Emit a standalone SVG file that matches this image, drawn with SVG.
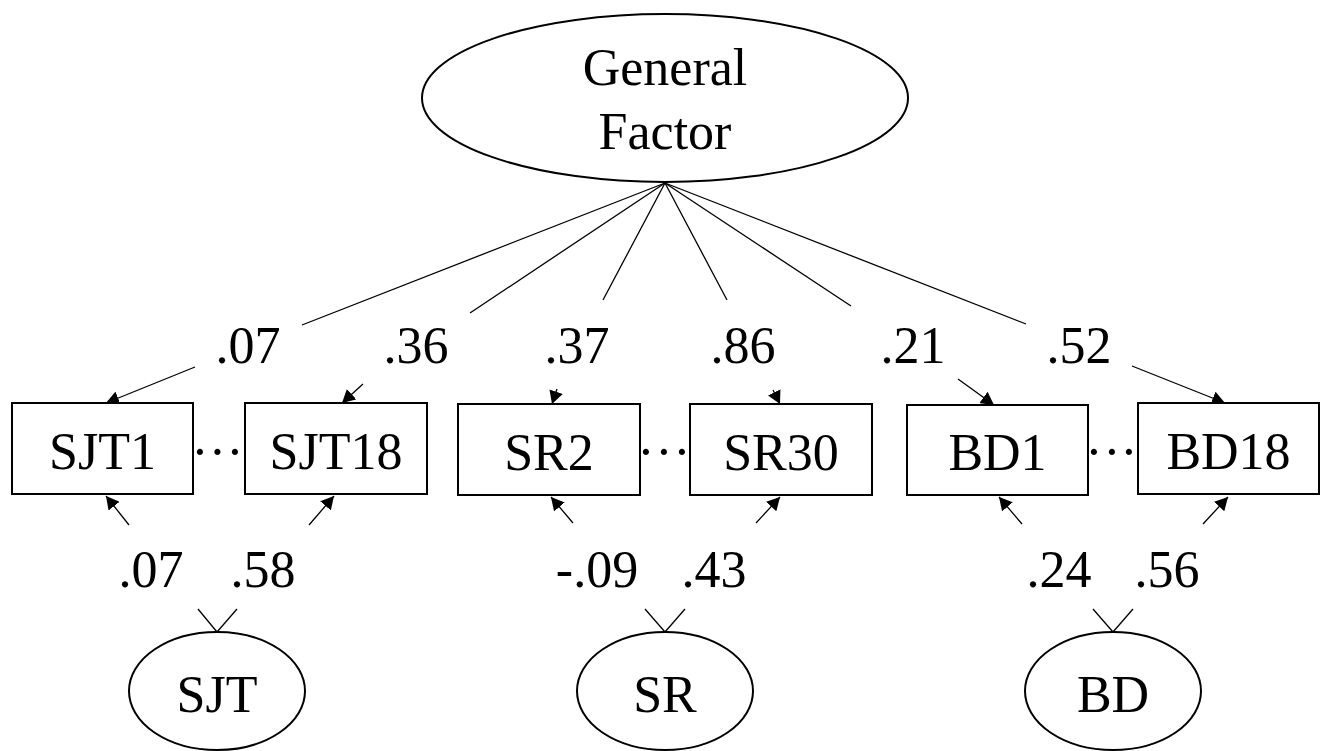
<svg xmlns="http://www.w3.org/2000/svg" width="1326" height="751" viewBox="0 0 1326 751">
  <style>
    text { font-family: "Liberation Serif", "Times New Roman", serif; font-size: 52px; fill: #000; }
    .mid { text-anchor: middle; }
    .shape { fill: #fff; stroke: #000; stroke-width: 2; }
    .edge { fill: none; stroke: #000; stroke-width: 1.3; }
  </style>
  <defs>
    <marker id="arrow" viewBox="0 0 13 14" refX="13" refY="7" markerWidth="13" markerHeight="14" markerUnits="userSpaceOnUse" orient="auto">
      <path d="M0,0 L13,7 L0,14 Z" fill="#000"/>
    </marker>
  </defs>

  <rect width="1326" height="751" fill="#fff"/>

  <!-- paths: each connector is split around its coefficient label -->
  <g id="connectors">
    <path class="edge" d="M665,183 L302,325 M195,367 L106,403" marker-end="url(#arrow)"/>
    <path class="edge" d="M665,183 L470,313 M363,384 L342,403" marker-end="url(#arrow)"/>
    <path class="edge" d="M665,183 L603,300 M557,389 L552,404" marker-end="url(#arrow)"/>
    <path class="edge" d="M665,183 L727,300 M773,390 L780,404" marker-end="url(#arrow)"/>
    <path class="edge" d="M665,183 L851,306 M958,379 L994,405" marker-end="url(#arrow)"/>
    <path class="edge" d="M665,183 L1026,324 M1132,366 L1225,403" marker-end="url(#arrow)"/>

    <path class="edge" d="M217,632 L198,609 M129,525 L106,496" marker-end="url(#arrow)"/>
    <path class="edge" d="M217,632 L237,609 M309,525 L334,496" marker-end="url(#arrow)"/>
    <path class="edge" d="M665,632 L645,609 M573,523 L551,497" marker-end="url(#arrow)"/>
    <path class="edge" d="M665,632 L685,609 M756,523 L780,497" marker-end="url(#arrow)"/>
    <path class="edge" d="M1113,632 L1093,609 M1022,524 L999,497" marker-end="url(#arrow)"/>
    <path class="edge" d="M1113,632 L1133,609 M1203,524 L1228,497" marker-end="url(#arrow)"/>
  </g>

  <g id="labels">
    <text class="mid" x="248" y="363">.07</text>
    <text class="mid" x="416" y="363">.36</text>
    <text class="mid" x="577" y="363">.37</text>
    <text class="mid" x="743" y="363">.86</text>
    <text class="mid" x="913" y="363">.21</text>
    <text class="mid" x="1079" y="363">.52</text>

    <text class="mid" x="151" y="587">.07</text>
    <text class="mid" x="263" y="587">.58</text>
    <text class="mid" x="597" y="587">-.09</text>
    <text class="mid" x="714" y="587">.43</text>
    <text class="mid" x="1059" y="587">.24</text>
    <text class="mid" x="1167" y="587">.56</text>
  </g>

  <g id="general-factor">
    <ellipse class="shape" cx="665" cy="98" rx="243" ry="84"/>
    <text class="mid" x="665" y="85">General</text>
    <text class="mid" x="665" y="149">Factor</text>
  </g>

  <g id="sjt1">
    <rect class="shape" x="12" y="403" width="181" height="91"/>
    <text class="mid" x="102.5" y="469">SJT1</text>
  </g>
  <g id="sjt-dots"><text class="mid" x="200 217.5 235" y="469">···</text></g>
  <g id="sjt18">
    <rect class="shape" x="245" y="403" width="182" height="91"/>
    <text class="mid" x="336" y="469">SJT18</text>
  </g>

  <g id="sr2">
    <rect class="shape" x="458" y="404" width="182" height="91"/>
    <text class="mid" x="549" y="470">SR2</text>
  </g>
  <g id="sr-dots"><text class="mid" x="646 664 682" y="469">···</text></g>
  <g id="sr30">
    <rect class="shape" x="690" y="404" width="182" height="91"/>
    <text class="mid" x="781" y="470">SR30</text>
  </g>

  <g id="bd1">
    <rect class="shape" x="907" y="405" width="181" height="90"/>
    <text class="mid" x="997.5" y="470">BD1</text>
  </g>
  <g id="bd-dots"><text class="mid" x="1094 1112 1129" y="469">···</text></g>
  <g id="bd18">
    <rect class="shape" x="1138" y="403" width="181" height="91"/>
    <text class="mid" x="1228.5" y="469">BD18</text>
  </g>

  <g id="sjt">
    <ellipse class="shape" cx="217" cy="691" rx="88" ry="59"/>
    <text class="mid" x="217" y="712">SJT</text>
  </g>
  <g id="sr">
    <ellipse class="shape" cx="665" cy="691" rx="88" ry="59"/>
    <text class="mid" x="665" y="712">SR</text>
  </g>
  <g id="bd">
    <ellipse class="shape" cx="1113" cy="691" rx="88" ry="59"/>
    <text class="mid" x="1113" y="712">BD</text>
  </g>
</svg>
